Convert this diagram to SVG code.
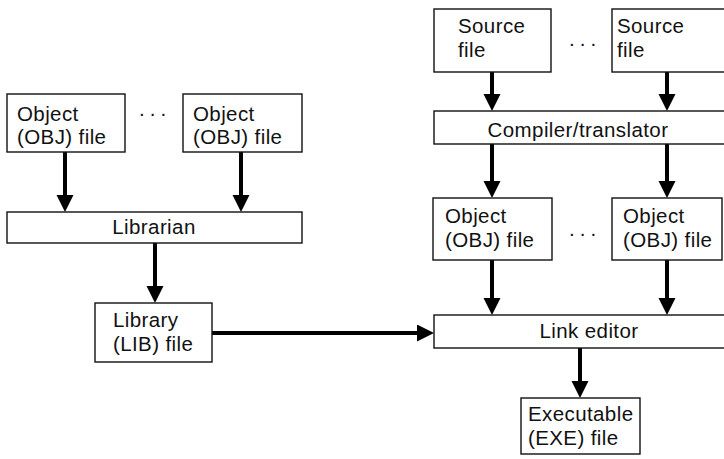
<svg xmlns="http://www.w3.org/2000/svg" width="724" height="459" viewBox="0 0 724 459">
<style>
.box{fill:#fff;stroke:#111;stroke-width:1.4}
.t{font-family:"Liberation Sans",Arial,sans-serif;font-size:20.5px;letter-spacing:0.4px;fill:#111}
.c{text-anchor:middle}
.d{letter-spacing:5px}
.e{stroke:#000;stroke-width:4;fill:none}
</style>
<defs>
<marker id="ah" markerUnits="userSpaceOnUse" markerWidth="17" markerHeight="18" refX="7" refY="8.5" orient="auto">
<path d="M0,0 L17,8.5 L0,17 z" fill="#000"/>
</marker>
</defs>
<rect width="724" height="459" fill="#fff"/>
<g id="connectors">
<line class="e" x1="65" y1="152" x2="65" y2="202" marker-end="url(#ah)"/>
<line class="e" x1="241" y1="152" x2="241" y2="202" marker-end="url(#ah)"/>
<line class="e" x1="155" y1="243" x2="155" y2="293" marker-end="url(#ah)"/>
<line class="e" x1="212" y1="333" x2="424" y2="333" marker-end="url(#ah)"/>
<line class="e" x1="492" y1="72" x2="492" y2="101" marker-end="url(#ah)"/>
<line class="e" x1="667" y1="72" x2="667" y2="101" marker-end="url(#ah)"/>
<line class="e" x1="492" y1="144" x2="492" y2="188" marker-end="url(#ah)"/>
<line class="e" x1="667" y1="144" x2="667" y2="188" marker-end="url(#ah)"/>
<line class="e" x1="492" y1="260" x2="492" y2="305" marker-end="url(#ah)"/>
<line class="e" x1="667" y1="260" x2="667" y2="305" marker-end="url(#ah)"/>
<line class="e" x1="580" y1="348" x2="580" y2="388" marker-end="url(#ah)"/>
</g>
<g id="obj-left-1"><rect class="box" x="7" y="94" width="118" height="58"/><text class="t" x="17" y="121">Object</text><text class="t" x="17" y="144">(OBJ) file</text></g>
<g id="dots-left"><text class="t d" x="139" y="116">...</text></g>
<g id="obj-left-2"><rect class="box" x="183" y="94" width="119" height="58"/><text class="t" x="193" y="121">Object</text><text class="t" x="193" y="144">(OBJ) file</text></g>
<g id="librarian"><rect class="box" x="7" y="212" width="295" height="31"/><text class="t c" x="154" y="234">Librarian</text></g>
<g id="library"><rect class="box" x="95" y="303" width="117" height="59"/><text class="t" x="113" y="327">Library</text><text class="t" x="113" y="351">(LIB) file</text></g>
<g id="source-1"><rect class="box" x="434" y="9" width="117" height="63"/><text class="t" x="458" y="33">Source</text><text class="t" x="458" y="57">file</text></g>
<g id="dots-source"><text class="t d" x="569" y="46">...</text></g>
<g id="source-2"><rect class="box" x="612" y="9" width="120" height="63"/><text class="t" x="617" y="33">Source</text><text class="t" x="617" y="57">file</text></g>
<g id="compiler"><rect class="box" x="434" y="111" width="300" height="33"/><text class="t c" x="578" y="137">Compiler/translator</text></g>
<g id="obj-right-1"><rect class="box" x="433" y="198" width="119" height="62"/><text class="t" x="445" y="223">Object</text><text class="t" x="445" y="247">(OBJ) file</text></g>
<g id="dots-obj"><text class="t d" x="569" y="236">...</text></g>
<g id="obj-right-2"><rect class="box" x="612" y="198" width="110" height="62"/><text class="t" x="623" y="223">Object</text><text class="t" x="623" y="247">(OBJ) file</text></g>
<g id="link-editor"><rect class="box" x="434" y="315" width="300" height="33"/><text class="t c" x="589" y="338">Link editor</text></g>
<g id="executable"><rect class="box" x="521" y="398" width="119" height="56"/><text class="t" x="528" y="421">Executable</text><text class="t" x="528" y="445">(EXE) file</text></g>
</svg>
